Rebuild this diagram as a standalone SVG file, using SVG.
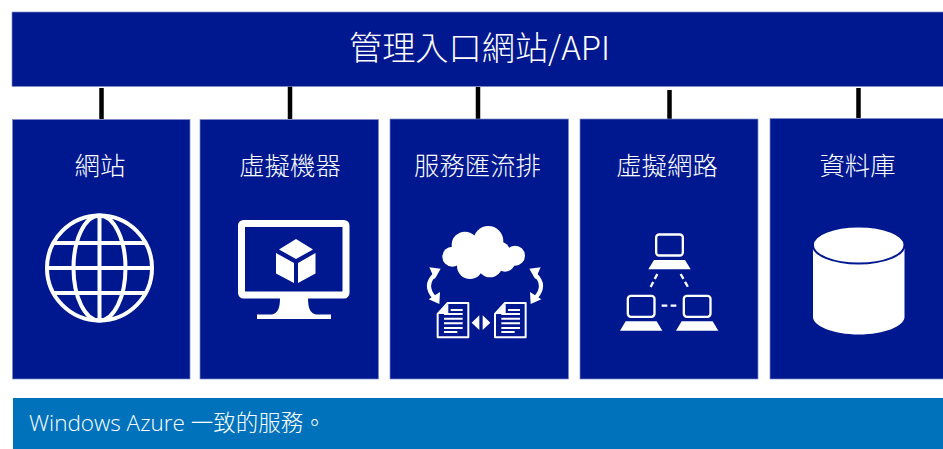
<svg xmlns="http://www.w3.org/2000/svg" width="943" height="449" viewBox="0 0 943 449">
<style>
.box{fill:#00188f;stroke:#7f8bc7;stroke-width:.7}
text{fill:#fff;font-family:"Noto Sans CJK TC","Noto Sans",sans-serif;font-weight:300;text-anchor:middle}
.lab{font-size:25.400px}
.line{stroke:#000;stroke-width:4.500;fill:none}
.ln{fill:none;stroke:#fff}
.f{fill:#fff}
</style>
<defs>
<g id="laptop">
<rect x="3.500" y="3.500" width="80" height="63" rx="9" class="ln" stroke-width="7"/>
<path d="M-3 80H90L107 108H-20Z" class="f"/>
</g>
<g id="doc">
<path d="M3 36L33 3H95V106H3Z" class="ln" stroke-width="6" stroke-linejoin="round"/>
<path d="M5 36H35V5Z" class="f"/>
<path d="M22 36H78M22 50H78M22 64H78M22 78H78M22 90H62M42 24H78" class="ln" stroke-width="6"/>
</g>
</defs>
<g id="connectors">
<path class="line" d="M101.500 88V119M290 86V119M478 87V119M669.500 90V119M858.500 88V118"/>
</g>
<g id="header">
<rect class="box" x="12" y="12" width="932" height="74.500"/>
<text x="479.500" y="60" font-size="33.200">管理入口網站/API</text>
</g>
<g id="node-website">
<rect class="box" x="12.500" y="119.500" width="177.500" height="259.500"/>
<text class="lab" x="100" y="175">網站</text>
<g class="ln" stroke-width="4">
<circle cx="99.500" cy="268" r="52.500"/>
<ellipse cx="99.500" cy="268" rx="26" ry="52.500"/>
<path d="M99.500 215.500V320.500M47 268H152M54 243H145M54 293H145"/>
</g>
</g>
<g id="node-vm">
<rect class="box" x="200" y="119.500" width="178.500" height="259.500"/>
<text class="lab" x="290" y="175">虛擬機器</text>
<rect class="ln" x="241.500" y="223.500" width="104.500" height="71.500" rx="2" stroke-width="7"/>
<path class="f" d="M280 298H308C308 308 310 313 316 314.500H331V319H257V314.500H272C278 313 280 308 280 298Z"/>
<path class="f" d="M296 239L313 249.500L296 259L279 249.500ZM276 253L294 263V283L276 273.500ZM315.500 253L298 263V283L315.500 273.500Z"/>
</g>
<g id="node-bus">
<rect class="box" x="390" y="119" width="178.500" height="260"/>
<text class="lab" x="477.500" y="175">服務匯流排</text>
<g transform="translate(410 210) scale(.3333)">
<g class="f">
<circle cx="127" cy="140" r="30"/><circle cx="165" cy="105" r="40"/><circle cx="235" cy="93" r="45"/><circle cx="315" cy="137" r="30"/><circle cx="180" cy="168" r="39"/><circle cx="240" cy="165" r="37"/><circle cx="285" cy="155" r="30"/><circle cx="270" cy="125" r="30"/>
<rect x="150" y="100" width="130" height="80"/>
</g>
<path class="ln" stroke-width="12" d="M76 192Q40 225 72 262M374 192Q410 225 378 262"/>
<path class="f" d="M58 172L92 176L74 208ZM56 268L90 246L88 282ZM392 172L358 176L376 208ZM394 268L360 246L362 282Z"/>
<path class="f" d="M185 338L208 316V360ZM241 338L218 316V360Z"/>
<use href="#doc" x="80" y="276"/>
<use href="#doc" x="252" y="276"/>
</g>
</g>
<g id="node-vnet">
<rect class="box" x="580" y="119" width="178" height="260"/>
<text class="lab" x="667" y="175">虛擬網路</text>
<g transform="translate(600 210) scale(.3333)">
<use href="#laptop" x="165" y="70"/>
<use href="#laptop" x="80" y="254"/>
<use href="#laptop" x="248" y="254"/>
<path class="ln" stroke-width="7" d="M172 192L150 235M242 192L266 235M185 287H232" stroke-dasharray="17 10"/>
</g>
</g>
<g id="node-db">
<rect class="box" x="770" y="118.500" width="174" height="260.500"/>
<text class="lab" x="857.500" y="175">資料庫</text>
<path class="f" d="M813 245.500V317C813 326 833 334.500 858.700 334.500S904.500 326 904.500 317V245.500Z"/>
<ellipse cx="858.700" cy="245" rx="45.800" ry="18.500" class="f" stroke="#00188f" stroke-width="2"/>
</g>
<g id="footer">
<rect x="13" y="398" width="930" height="51" fill="#0072bc"/>
<text x="29" y="431" font-size="22.500" style="text-anchor:start;font-family:'Open Sans','Noto Sans CJK TC',sans-serif">Windows Azure 一致的服務。</text>
</g>
</svg>
